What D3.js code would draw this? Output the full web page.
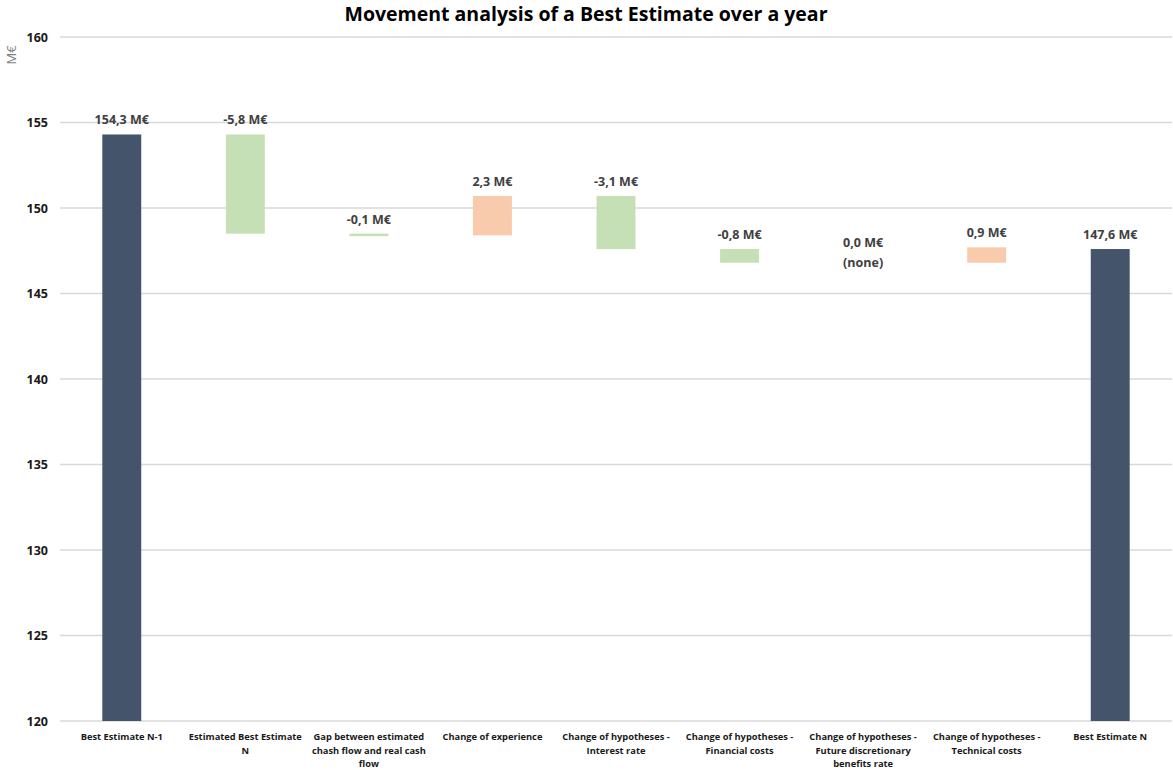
<!DOCTYPE html>
<html>
<head>
<meta charset="utf-8">
<script src="https://cdn.jsdelivr.net/npm/d3@7"></script>
<style>
  body { margin: 0; background: #fff; }
  svg { display: block; }
</style>
</head>
<body>
<svg id="chart" width="1173" height="770"></svg>
<script>
const categories = [
  "Best Estimate N-1",
  "Estimated Best Estimate N",
  "Gap between estimated chash flow and real cash flow",
  "Change of experience",
  "Change of hypotheses - Interest rate",
  "Change of hypotheses - Financial costs",
  "Change of hypotheses - Future discretionary benefits rate",
  "Change of hypotheses - Technical costs",
  "Best Estimate N"
];
const categoryLines = [
  ["Best Estimate N-1"],
  ["Estimated Best Estimate", "N"],
  ["Gap between estimated", "chash flow and real cash", "flow"],
  ["Change of experience"],
  ["Change of hypotheses -", "Interest rate"],
  ["Change of hypotheses -", "Financial costs"],
  ["Change of hypotheses -", "Future discretionary", "benefits rate"],
  ["Change of hypotheses -", "Technical costs"],
  ["Best Estimate N"]
];
const kinds = ["total","delta","delta","delta","delta","delta","delta","delta","total"];
const values = [154.3, -5.8, -0.1, 2.3, -3.1, -0.8, 0.0, 0.9, 147.6];
const valueLabels = ["154,3 M€","-5,8 M€","-0,1 M€","2,3 M€","-3,1 M€","-0,8 M€","0,0 M€","0,9 M€","147,6 M€"];
const yTicks = [120, 125, 130, 135, 140, 145, 150, 155, 160];

(function () {
  let running = 0;
  const bars = values.map((v, i) => {
    let lo, hi, tp;
    if (kinds[i] === "total") {
      lo = 120; hi = v; running = v; tp = v;
    } else {
      const start = running, end = running + v;
      lo = Math.min(start, end); hi = Math.max(start, end);
      running = end; tp = hi;
    }
    return { i, cat: categories[i], v, lo, hi, tp, kind: kinds[i], level: running };
  });

  const svg = d3.select("#chart");
  const mLeft = 60, mRight = 1172, mTop = 37, mBottom = 721;

  const x = d3.scaleBand().domain(categories).range([mLeft, mRight]).paddingInner(0.685).paddingOuter(0.3425);
  const y = d3.scaleLinear().domain([120, 160]).range([mBottom, mTop]);

  svg.append("g").selectAll("line").data(yTicks).join("line")
    .attr("x1", mLeft).attr("x2", mRight)
    .attr("y1", d => y(d)).attr("y2", d => y(d))
    .attr("stroke", "#d9d9d9").attr("stroke-width", 1.3);

  svg.append("g").selectAll("text").data(yTicks).join("text")
    .attr("x", 48).attr("y", d => y(d) + 4.5)
    .attr("text-anchor", "end")
    .attr("font-family", "'Open Sans', sans-serif").attr("font-weight", "bold")
    .attr("font-size", 12.5).attr("fill", "#1a1a1a")
    .text(d => d);

  svg.append("text")
    .attr("transform", "translate(16,55) rotate(-90)")
    .attr("text-anchor", "middle")
    .attr("font-family", "'Open Sans', sans-serif")
    .attr("font-size", 13).attr("fill", "#7f7f7f")
    .text("M€");

  svg.append("text")
    .attr("x", 586).attr("y", 21)
    .attr("text-anchor", "middle")
    .attr("font-family", "'Open Sans', sans-serif").attr("font-weight", "bold")
    .attr("font-size", 19.5).attr("fill", "#000")
    .text("Movement analysis of a Best Estimate over a year");

  const color = d => d.kind === "total" ? "#44546A" : (d.v < 0 ? "#C5E0B4" : "#F8CBAD");

  svg.append("g").selectAll("rect").data(bars.filter(d => d.v !== 0)).join("rect")
    .attr("x", d => x(d.cat))
    .attr("width", x.bandwidth())
    .attr("y", d => y(d.hi))
    .attr("height", d => Math.max(2.5, y(d.lo) - y(d.hi)))
    .attr("fill", color);

  const lab = svg.append("g")
    .attr("font-family", "'Open Sans', sans-serif").attr("font-weight", "bold")
    .attr("font-size", 12.5).attr("fill", "#404040").attr("text-anchor", "middle");
  bars.forEach((d, i) => {
    const cx = x(d.cat) + x.bandwidth() / 2;
    if (d.v === 0) {
      lab.append("text").attr("x", cx).attr("y", y(d.level) - 16).text(valueLabels[i]);
      lab.append("text").attr("x", cx).attr("y", y(d.level) + 4).text("(none)");
    } else {
      lab.append("text").attr("x", cx).attr("y", y(d.tp) - 10).text(valueLabels[i]);
    }
  });

  const xl = svg.append("g")
    .attr("font-family", "'Open Sans', sans-serif").attr("font-weight", "bold")
    .attr("font-size", 9.3).attr("fill", "#1a1a1a").attr("text-anchor", "middle");
  categories.forEach((c, i) => {
    const cx = x(c) + x.bandwidth() / 2;
    categoryLines[i].forEach((ln, j) => {
      xl.append("text").attr("x", cx).attr("y", 740 + j * 13.5).text(ln);
    });
  });
})();
</script>
</body>
</html>
